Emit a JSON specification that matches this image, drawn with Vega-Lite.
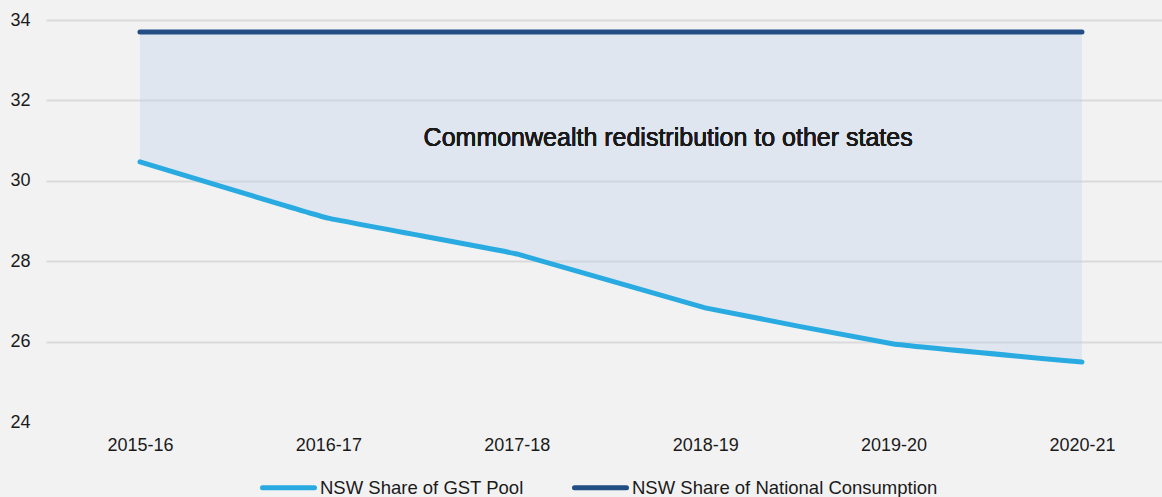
{
  "$schema": "https://vega.github.io/schema/vega-lite/v6.json",
  "width": 1116,
  "height": 402,
  "autosize": {"type": "none"},
  "padding": {"left": 46, "top": 20, "right": 0, "bottom": 75},
  "background": "#f2f2f2",
  "config": {"view": {"stroke": null}, "font": "Liberation Sans"},
  "data": {
    "values": [
      {"year": "2015-16", "gst": 30.47, "consumption": 33.7},
      {"year": "2016-17", "gst": 29.07, "consumption": 33.7},
      {"year": "2017-18", "gst": 28.18, "consumption": 33.7},
      {"year": "2018-19", "gst": 26.84, "consumption": 33.7},
      {"year": "2019-20", "gst": 25.94, "consumption": 33.7},
      {"year": "2020-21", "gst": 25.49, "consumption": 33.7}
    ]
  },
  "encoding": {
    "x": {
      "field": "year",
      "type": "ordinal",
      "title": null,
      "scale": {"type": "point", "padding": 0.4618, "align": 0.54},
      "axis": {
        "labelAngle": 0,
        "labelFontSize": 18,
        "labelColor": "#1a1a1a",
        "labelPadding": 14,
        "ticks": false,
        "domain": false,
        "grid": false
      }
    }
  },
  "layer": [
    {
      "mark": {"type": "area", "interpolate": "cardinal", "tension": 0.8, "fill": "#b8cce8", "opacity": 0.32},
      "encoding": {
        "y": {
          "field": "gst",
          "type": "quantitative",
          "title": null,
          "scale": {"domain": [24, 34], "nice": false, "zero": false},
          "axis": {
            "values": [24, 26, 28, 30, 32, 34],
            "labelFontSize": 18,
            "labelColor": "#1a1a1a",
            "labelPadding": 16,
            "ticks": false,
            "domain": false,
            "grid": true,
            "gridColor": "#dadada",
            "gridWidth": 2,
            "gridOpacity": {"condition": {"test": "datum.value === 24", "value": 0}, "value": 1}
          }
        },
        "y2": {"field": "consumption"}
      }
    },
    {
      "transform": [{"fold": ["gst", "consumption"], "as": ["series", "value"]}],
      "mark": {"type": "line", "interpolate": "cardinal", "tension": 0.8, "strokeWidth": 5, "strokeCap": "round"},
      "encoding": {
        "y": {"field": "value", "type": "quantitative", "title": null},
        "color": {
          "field": "series",
          "type": "nominal",
          "scale": {"domain": ["gst", "consumption"], "range": ["#29abe2", "#234e85"]},
          "legend": {
            "orient": "none",
            "legendX": 214,
            "legendY": 439,
            "direction": "horizontal",
            "title": null,
            "labelExpr": "datum.label === 'gst' ? 'NSW Share of GST Pool' : 'NSW Share of National Consumption'",
            "symbolType": "stroke",
            "symbolSize": 2704,
            "symbolStrokeWidth": 5,
            "labelFontSize": 18.5,
            "labelColor": "#1a1a1a",
            "labelOffset": 3,
            "columnPadding": 40,
            "labelLimit": 500,
            "encode": {"symbols": {"update": {"strokeCap": {"value": "round"}}}}
          }
        }
      }
    },
    {
      "mark": {"type": "text", "fontSize": 25, "color": "#1a1a1a", "dx": -37, "align": "center", "baseline": "middle"},
      "encoding": {
        "x": {"datum": "2018-19"},
        "y": {"datum": 31.06},
        "text": {"value": "Commonwealth redistribution to other states"}
      }
    }
  ]
}
